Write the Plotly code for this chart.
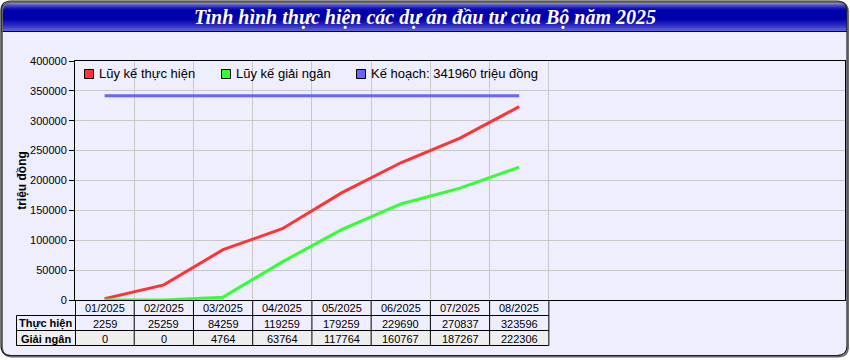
import math
import plotly.graph_objects as go

# ---------------- data ----------------
months = ["01/2025", "02/2025", "03/2025", "04/2025", "05/2025", "06/2025", "07/2025", "08/2025"]
thuc_hien = [2259, 25259, 84259, 119259, 179259, 229690, 270837, 323596]
giai_ngan = [0, 0, 4764, 63764, 117764, 160767, 187267, 222306]
ke_hoach = 341960
y_ticks = [0, 50000, 100000, 150000, 200000, 250000, 300000, 350000, 400000]
title_text = "Tinh hình thực hiện các dự án đầu tư của Bộ năm 2025"
series_names = ["Lũy kế thực hiện", "Lũy kế giải ngân", f"Kế hoạch: {ke_hoach} triệu đồng"]
series_colors = ["#FF3333", "#33FF33", "#6666FF"]
row_labels = ["Thực hiện", "Giải ngân"]
y_title = "triệu đồng"

# ---------------- geometry helpers ----------------
W, H = 850, 360
N_SLOTS = 13
FONT = "Liberation Sans, Arial, sans-serif"


def X(px):
    return px / W


def Y(py):
    return 1 - py / H


xs = [i + 0.5 for i in range(len(months))]

fig = go.Figure()
fig.add_trace(go.Scatter(x=xs, y=thuc_hien, mode="lines", name=series_names[0],
                         line=dict(color=series_colors[0], width=3), hoverinfo="x+y"))
fig.add_trace(go.Scatter(x=xs, y=giai_ngan, mode="lines", name=series_names[1],
                         line=dict(color=series_colors[1], width=3), hoverinfo="x+y"))
fig.add_trace(go.Scatter(x=[xs[0], xs[-1]], y=[ke_hoach, ke_hoach], mode="lines", name=series_names[2],
                         line=dict(color=series_colors[2], width=3), hoverinfo="y"))

shapes = []
annotations = []


def rr_path(x0, y0, x1, y1, r, top=True, bottom=True):
    rt = r if top else 0
    rb = r if bottom else 0
    pts = [
        f"M {X(x0 + rt)},{Y(y0)}",
        f"L {X(x1 - rt)},{Y(y0)}",
        f"Q {X(x1)},{Y(y0)} {X(x1)},{Y(y0 + rt)}",
        f"L {X(x1)},{Y(y1 - rb)}",
        f"Q {X(x1)},{Y(y1)} {X(x1 - rb)},{Y(y1)}",
        f"L {X(x0 + rb)},{Y(y1)}",
        f"Q {X(x0)},{Y(y1)} {X(x0)},{Y(y1 - rb)}",
        f"L {X(x0)},{Y(y0 + rt)}",
        f"Q {X(x0)},{Y(y0)} {X(x0 + rt)},{Y(y0)}",
        "Z",
    ]
    return " ".join(pts)


FX0, FY0, FX1, FY1, R = 1, 1, 847, 355.5, 10

# body background (lavender)
shapes.append(dict(type="path", xref="paper", yref="paper", layer="below",
                   path=rr_path(FX0, FY0, FX1, FY1, R), fillcolor="#EEEEFF", line=dict(width=0)))

# title gradient bands
stops = [(1, (180, 180, 235)), (3, (145, 145, 222)), (5, (85, 85, 202)), (9, (10, 10, 180)),
         (11, (0, 0, 172)), (19, (0, 0, 170)), (25, (40, 40, 190)), (31, (100, 100, 215))]


def grad(y):
    for (ya, ca), (yb, cb) in zip(stops[:-1], stops[1:]):
        if ya <= y <= yb:
            t = (y - ya) / (yb - ya)
            return tuple(round(a + (b - a) * t) for a, b in zip(ca, cb))
    return stops[-1][1]


for yy in range(1, 31):
    yc = yy + 0.5
    inset = 0.0
    if yc < FY0 + R:
        dy = (FY0 + R) - yc
        inset = R - math.sqrt(max(R * R - dy * dy, 0))
    c = grad(yc)
    shapes.append(dict(type="rect", xref="paper", yref="paper", layer="below",
                       x0=X(FX0 + inset), x1=X(FX1 - inset), y0=Y(yy + 1), y1=Y(yy),
                       fillcolor=f"rgb{c}", line=dict(width=0)))

# line under title
shapes.append(dict(type="line", xref="paper", yref="paper", x0=X(FX0), x1=X(FX1), y0=Y(31.5), y1=Y(31.5),
                   line=dict(color="#000033", width=1)))
# shadow + frame
shapes.append(dict(type="path", xref="paper", yref="paper",
                   path=rr_path(FX0 + 1.2, FY0 + 1.2, FX1 + 1.2, FY1 + 1.2, R), line=dict(color="#666666", width=1.5)))
shapes.append(dict(type="path", xref="paper", yref="paper",
                   path=rr_path(FX0, FY0, FX1, FY1, R), line=dict(color="#222222", width=1.2)))

# ---------------- table under the chart ----------------
T_TOP, T_R1, T_R2, T_BOT = 300, 315.5, 330.5, 345.5
LBL_X0, LBL_X1 = 16.5, 75
n = len(months)

# gray fill for second data row
shapes.append(dict(type="rect", xref="paper", yref="paper", x0=X(LBL_X0), x1=X(LBL_X1), y0=Y(T_BOT), y1=Y(T_R2),
                   fillcolor="#EEEEEE", line=dict(width=0)))
shapes.append(dict(type="rect", xref="x", yref="paper", x0=0, x1=n, y0=Y(T_BOT), y1=Y(T_R2),
                   fillcolor="#EEEEEE", line=dict(width=0)))

blk = dict(color="black", width=1)
for yy in (T_R1, T_R2, T_BOT):
    shapes.append(dict(type="line", xref="paper", yref="paper", x0=X(LBL_X0), x1=X(LBL_X1), y0=Y(yy), y1=Y(yy), line=blk))
    shapes.append(dict(type="line", xref="x", yref="paper", x0=0, x1=n, y0=Y(yy), y1=Y(yy), line=blk))
shapes.append(dict(type="line", xref="paper", yref="paper", x0=X(LBL_X0), x1=X(LBL_X0), y0=Y(T_R1), y1=Y(T_BOT), line=blk))
shapes.append(dict(type="line", xref="paper", yref="paper", x0=X(75.5), x1=X(75.5), y0=Y(T_TOP), y1=Y(T_BOT), line=blk))
for k in range(1, n + 1):
    shapes.append(dict(type="line", xref="x", yref="paper", x0=k, x1=k, y0=Y(T_TOP), y1=Y(T_BOT), line=blk))

cell_font = dict(family=FONT, size=11, color="black")
for i, m in enumerate(months):
    annotations.append(dict(x=xs[i], xref="x", y=Y((T_TOP + T_R1) / 2 + 0.5), yref="paper", text=m,
                            showarrow=False, font=cell_font, xanchor="center", yanchor="middle"))
    annotations.append(dict(x=xs[i], xref="x", y=Y((T_R1 + T_R2) / 2 + 0.5), yref="paper", text=str(thuc_hien[i]),
                            showarrow=False, font=cell_font, xanchor="center", yanchor="middle"))
    annotations.append(dict(x=xs[i], xref="x", y=Y((T_R2 + T_BOT) / 2 + 0.5), yref="paper", text=str(giai_ngan[i]),
                            showarrow=False, font=cell_font, xanchor="center", yanchor="middle"))
for lbl, (ya, yb) in zip(row_labels, [(T_R1, T_R2), (T_R2, T_BOT)]):
    annotations.append(dict(x=X((LBL_X0 + LBL_X1) / 2), xref="paper", y=Y((ya + yb) / 2 + 0.5), yref="paper",
                            text=f"<b>{lbl}</b>", showarrow=False, font=cell_font,
                            xanchor="center", yanchor="middle"))

# ---------------- manual legend ----------------
leg_sq_x = [84, 221, 356]
for name, col, sx in zip(series_names, series_colors, leg_sq_x):
    shapes.append(dict(type="rect", xref="paper", yref="paper", x0=X(sx + 0.5), x1=X(sx + 9.5),
                       y0=Y(78.5), y1=Y(69.5), fillcolor=col, line=dict(color="black", width=1)))
    annotations.append(dict(x=X(sx + 13), xref="paper", y=Y(74), yref="paper", text=name, showarrow=False,
                            font=dict(family=FONT, size=13, color="black"), xanchor="left", yanchor="middle"))

grid_c = "#C8C8C8"
fig.update_layout(
    width=W, height=H,
    margin=dict(l=0, r=0, t=0, b=0),
    paper_bgcolor="white", plot_bgcolor="white",
    showlegend=False,
    title=dict(text=title_text, x=0.5, xanchor="center", xref="paper", y=Y(16.5), yanchor="middle",
               font=dict(family="Liberation Serif, Times New Roman, serif", size=20, color="white",
                         weight="bold", style="italic")),
    xaxis=dict(domain=[X(75), X(845)], range=[0, N_SLOTS], tickvals=list(range(1, n + 1)),
               showticklabels=False, ticks="", showgrid=True, gridcolor=grid_c, gridwidth=1,
               showline=True, linecolor="black", linewidth=1, mirror=True, zeroline=False,
               automargin=False, fixedrange=True),
    yaxis=dict(domain=[Y(300), Y(61)], range=[0, 400000], tickvals=y_ticks, tickformat="d",
               ticks="outside", ticklen=5, tickcolor="black", tickwidth=1,
               tickfont=dict(family=FONT, size=11, color="black"),
               showgrid=True, gridcolor=grid_c, gridwidth=1,
               showline=True, linecolor="black", linewidth=1, mirror=True, zeroline=False,
               automargin=False, fixedrange=True,
               title=dict(text=y_title, standoff=0,
                          font=dict(family=FONT, size=12, color="black", weight="bold"))),
    shapes=shapes,
    annotations=annotations,
)

fig.write_html("out.html")
